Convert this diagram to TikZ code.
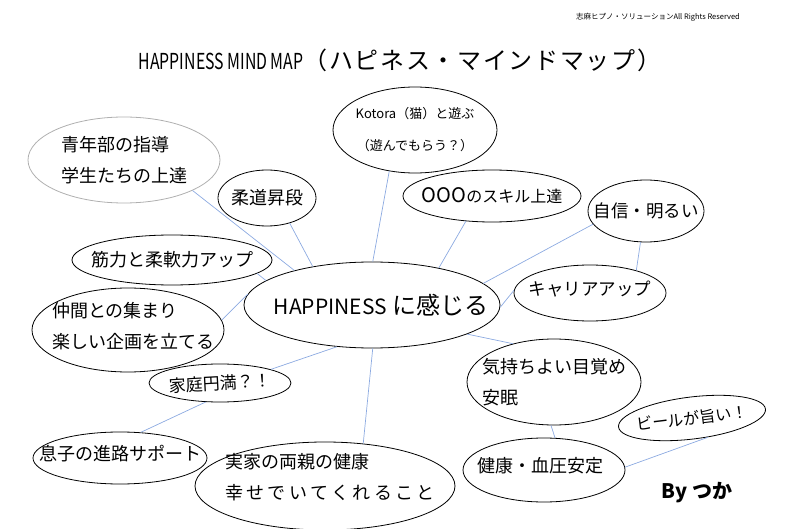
\documentclass[tikz,border=0pt]{standalone}
\usepackage{fontspec}
\setmainfont{Noto Sans CJK JP}
\newfontfamily\narrowfont[FakeStretch=0.72]{Noto Sans CJK JP}
\usetikzlibrary{shapes.geometric}
\definecolor{linkblue}{RGB}{140,170,225}
\definecolor{softgray}{RGB}{175,175,175}

\begin{document}
\begin{tikzpicture}[x=1pt, y=-1pt,
    bub/.style={draw, ellipse, inner sep=0pt, line width=0.8pt},
    link/.style={draw=linkblue, line width=0.7pt},
    every label/.style={font=\fontsize{18}{31}\selectfont, align=left}]
  \useasboundingbox (0,0) rectangle (800,529);

  % Header and title
  \node[font=\fontsize{7.5}{9}\selectfont] (rights) at (658,17) {志麻ヒプノ・ソリューションAll Rights Reserved};
  \node (title) at (400,60) {{\narrowfont\fontsize{22}{26}\selectfont HAPPINESS MIND MAP}{\fontsize{24}{26}\selectfont\addfontfeature{LetterSpace=7}（ハピネス・マインドマップ）}};

  % Center bubble
  \node[bub, minimum width=256pt, minimum height=86pt,
    label={[font=\fontsize{24}{28}\selectfont, xshift=9pt]center:{\fontsize{21}{28}\selectfont HAPPINESS} に感じる}] (happy) at (372,305) {};

  % Upper bubbles
  \node[bub, draw=softgray, minimum width=192pt, minimum height=86pt,
    label={center:青年部の指導\\学生たちの上達}] (youth) at (124,160) {};
  \node[bub, minimum width=164pt, minimum height=86pt,
    label={[font=\fontsize{13}{32}\selectfont, align=center]center:Kotora（猫）と遊ぶ\\（遊んでもらう？）}] (cat) at (415,130) {};
  \node[bub, minimum width=98pt, minimum height=56pt,
    label={center:柔道昇段}] (judo) at (267,198) {};
  \node[bub, minimum width=178pt, minimum height=52pt,
    label={[font=\fontsize{16}{20}\selectfont]center:{\fontsize{20}{20}\selectfont OOO}のスキル上達}] (skill) at (492,196) {};
  \node[bub, minimum width=116pt, minimum height=62pt,
    label={[font=\fontsize{17.5}{20}\selectfont]center:自信・明るい}] (conf) at (646,211) {};
  \node[bub, minimum width=152pt, minimum height=56pt,
    label={[font=\fontsize{17.5}{20}\selectfont, yshift=4pt]center:キャリアアップ}] (career) at (590,293) {};

  % Left bubbles
  \node[bub, minimum width=200pt, minimum height=50pt,
    label={center:筋力と柔軟力アップ}] (muscle) at (172,260) {};
  \node[bub, minimum width=192pt, minimum height=84pt,
    label={[xshift=5pt, yshift=4pt]center:仲間との集まり\\楽しい企画を立てる}] (mates) at (128,330) {};
  \node[bub, minimum width=142pt, minimum height=38pt,
    label={[font=\fontsize{17}{20}\selectfont, rotate=3]center:家庭円満？！}] (family) at (220,383) {};
  \node[bub, minimum width=174pt, minimum height=52pt,
    label={[yshift=4pt]center:息子の進路サポート}] (son) at (120,458) {};

  % Lower bubbles
  \node[bub, minimum width=260pt, minimum height=88pt,
    label={[xshift=5pt, yshift=9pt]center:実家の両親の健康\\{\addfontfeature{LetterSpace=19}幸せでいてくれること}}] (parents) at (325,486) {};
  \node[bub, minimum width=174pt, minimum height=86pt,
    label={center:気持ちよい目覚め\\安眠}] (wake) at (554,382) {};
  \node[bub, minimum width=162pt, minimum height=64pt,
    label={[xshift=-4pt, yshift=4pt]center:健康・血圧安定}] (health) at (544,470) {};
  \node[bub, rotate=7, minimum width=148pt, minimum height=42pt,
    label={[font=\fontsize{16}{20}\selectfont, rotate=7]center:ビールが旨い！}] (beer) at (692,418) {};

  % Signature
  \node[font=\fontsize{20}{24}\selectfont\bfseries] (author) at (697,493) {By つか};

  % Draw links
  \draw[link] (youth.-24) -- (happy.156);
  \draw[link] (judo.-48) -- (happy.147);
  \draw[link] (cat.-122) -- (happy.89);
  \draw[link] (skill.-136) -- (happy.29);
  \draw[link] (conf.-166) -- (happy.11);
  \draw[link] (conf.-100) -- (career.26);
  \draw[link] (career.178) -- (happy.-1);
  \draw[link] (muscle.-9) -- (happy.167);
  \draw[link] (mates.6) -- (happy.175);
  \draw[link] (family.15) -- (happy.-130);
  \draw[link] (family.-127) -- (son.51);
  \draw[link] (parents.48) -- (happy.-89);
  \draw[link] (wake.137) -- (happy.-17);
  \draw[link] (wake.-94) -- (health.71);
  \draw[link] (beer.-57) -- (health.2);
\end{tikzpicture}
\end{document}
